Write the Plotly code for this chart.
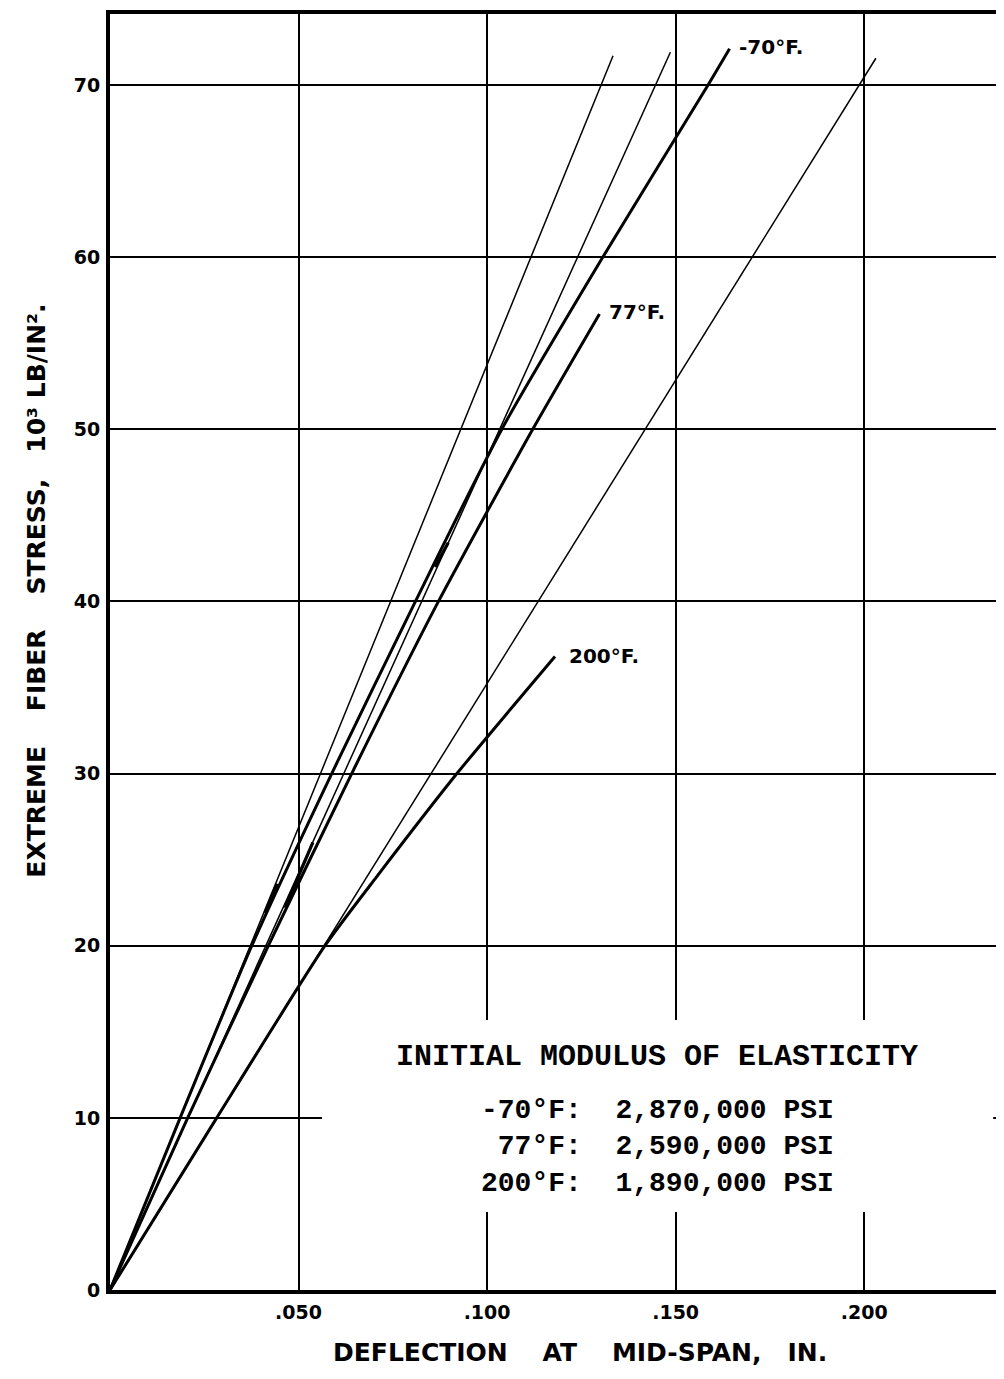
import plotly.graph_objects as go

# ---- data ----
x_tick_vals = [0.05, 0.10, 0.15, 0.20]
x_tick_text = [".050", ".100", ".150", ".200"]
y_tick_vals = [0, 10, 20, 30, 40, 50, 60, 70]
y_tick_text = ["0", "10", "20", "30", "40", "50", "60", "70"]

# thin lines: initial-modulus tangents
tan_m70_x = [0.0, 0.1334]
tan_m70_y = [0.0, 71.7]
tan_77_x = [0.0, 0.1486]
tan_77_y = [0.0, 71.9]
tan_200_x = [0.0, 0.2031]
tan_200_y = [0.0, 71.55]

# thick lines: test curves
curve_m70_x = [0.0, 0.0186, 0.0376, 0.0588, 0.0810, 0.1039, 0.1307, 0.1586, 0.1643]
curve_m70_y = [0.0, 10.0, 20.0, 30.0, 40.0, 50.0, 60.0, 70.0, 72.1]
curve_77_x = [0.0, 0.0206, 0.0420, 0.0641, 0.0871, 0.1121, 0.1298]
curve_77_y = [0.0, 10.0, 20.0, 30.0, 40.0, 50.0, 56.7]
curve_200_x = [0.0, 0.0283, 0.0570, 0.0707, 0.0920, 0.1180]
curve_200_y = [0.0, 10.0, 20.0, 24.0, 30.0, 36.8]

# short overlapping thick dashes
dash_x = [0.0411, 0.0443, None, 0.0464, 0.0538, None, 0.0862, 0.0897]
dash_y = [21.9, 23.6, None, 22.2, 26.0, None, 42.0, 43.4]

curve_labels = ["-70°F.", "77°F.", "200°F."]
curve_label_x = [0.1662, 0.1318, 0.1212]
curve_label_y = [72.2, 56.8, 36.8]

box_title = "INITIAL MODULUS OF ELASTICITY"
box_rows = ["-70°F:  2,870,000 PSI",
            " 77°F:  2,590,000 PSI",
            "200°F:  1,890,000 PSI"]

x_title = "DEFLECTION    AT    MID-SPAN,   IN."
y_title = "EXTREME    FIBER    STRESS,   10³ LB/IN²."

NB = "\u00a0"

fig = go.Figure()

for xs, ys in [(tan_m70_x, tan_m70_y), (tan_77_x, tan_77_y), (tan_200_x, tan_200_y)]:
    fig.add_trace(go.Scatter(x=xs, y=ys, mode="lines",
                             line=dict(color="black", width=1.5),
                             showlegend=False, hoverinfo="skip"))

for xs, ys in [(curve_m70_x, curve_m70_y), (curve_77_x, curve_77_y), (curve_200_x, curve_200_y)]:
    fig.add_trace(go.Scatter(x=xs, y=ys, mode="lines",
                             line=dict(color="black", width=3, shape="spline", smoothing=0.6),
                             showlegend=False, hoverinfo="skip"))

fig.add_trace(go.Scatter(x=dash_x, y=dash_y, mode="lines",
                         line=dict(color="black", width=3.2),
                         showlegend=False, hoverinfo="skip", connectgaps=False))

label_font = dict(family="DejaVu Sans", size=20, color="black", weight="bold")
for t, lx, ly in zip(curve_labels, curve_label_x, curve_label_y):
    fig.add_annotation(x=lx, y=ly, xref="x", yref="y", text=t, showarrow=False,
                       xanchor="left", yanchor="middle", font=label_font)

# white box that interrupts the grid behind the legend text
fig.add_shape(type="rect", xref="x", yref="y", x0=0.0562, x1=0.2342, y0=4.53, y1=15.68,
              fillcolor="white", line=dict(width=0), layer="above")

mono_title = dict(family="Liberation Mono", size=30, color="black", weight="bold")
mono_rows = dict(family="Liberation Mono", size=28, color="black", weight="bold")
fig.add_annotation(x=0.1451, y=13.54, xref="x", yref="y", text=box_title.replace(" ", NB),
                   showarrow=False, xanchor="center", yanchor="middle", font=mono_title)
fig.add_annotation(x=0.1451, y=8.3, xref="x", yref="y",
                   text="<br>".join(r.replace(" ", NB) for r in box_rows),
                   showarrow=False, xanchor="center", yanchor="middle", align="left",
                   font=mono_rows)

title_font = dict(family="DejaVu Sans", size=25, color="black", weight="bold")
fig.add_annotation(x=0.5210, y=-0.0486, xref="paper", yref="paper",
                   text=x_title.replace(" ", NB), showarrow=False,
                   xanchor="center", yanchor="middle", font=title_font)
fig.add_annotation(x=-0.081, y=0.548, xref="paper", yref="paper",
                   text=y_title.replace(" ", NB), showarrow=False, textangle=-90,
                   xanchor="center", yanchor="middle", font=title_font)

tick_font = dict(family="DejaVu Sans", size=19, color="black", weight="bold")
fig.update_xaxes(range=[0, 0.2392], tickvals=x_tick_vals, ticktext=x_tick_text,
                 showgrid=True, gridcolor="black", gridwidth=1.5,
                 showline=True, linecolor="black", linewidth=4, mirror=True,
                 ticks="", zeroline=False, tickfont=tick_font, ticklabelstandoff=2)
fig.update_yaxes(range=[0, 74.12], tickvals=y_tick_vals, ticktext=y_tick_text,
                 showgrid=True, gridcolor="black", gridwidth=1.5,
                 showline=True, linecolor="black", linewidth=4, mirror=False,
                 ticks="", zeroline=False, tickfont=tick_font, ticklabelstandoff=2)

fig.update_layout(width=1004, height=1379,
                  margin=dict(l=102, r=0, t=6, b=97),
                  plot_bgcolor="white", paper_bgcolor="white")

fig.write_html("out.html")
